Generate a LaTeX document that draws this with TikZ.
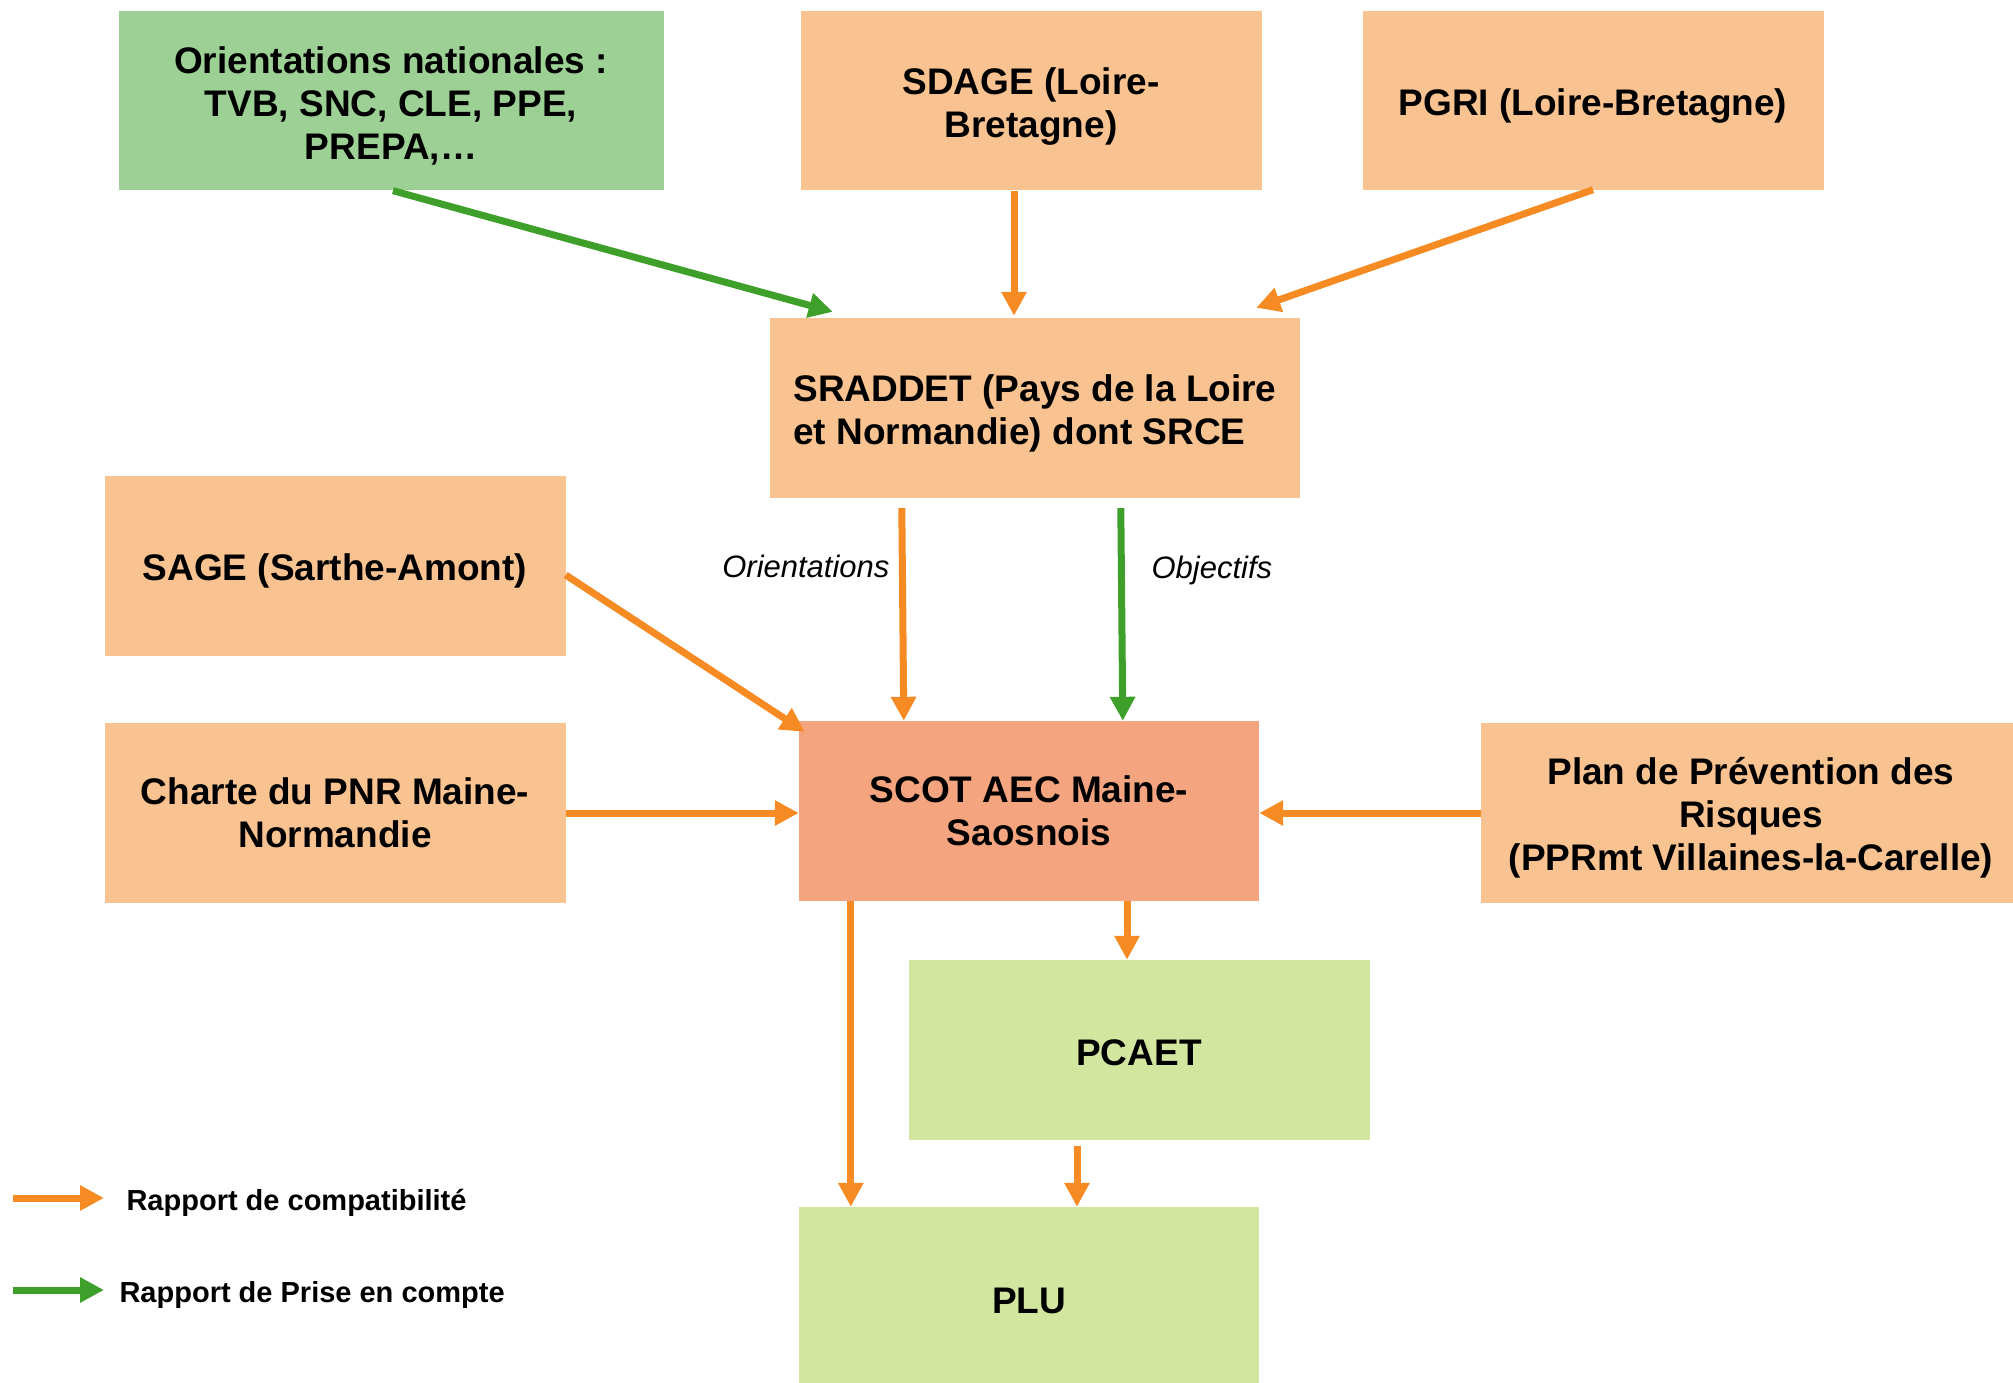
\documentclass[tikz,border=0pt]{standalone}
\usepackage{fontspec}
\setmainfont{Liberation Sans}
\usetikzlibrary{arrows.meta}
\definecolor{peche}{HTML}{F9C391}
\definecolor{vertnat}{HTML}{9CD094}
\definecolor{saumon}{HTML}{F4A57F}
\definecolor{vertpale}{HTML}{D3E6A0}
\definecolor{flecheorange}{HTML}{F68B23}
\definecolor{flecheverte}{HTML}{3EA02A}
\newcommand\haut{\rule{0pt}{37pt}}
\tikzset{
  doc/.style={fill=peche, minimum width=461pt, minimum height=180pt, inner sep=0pt,
    align=center, font=\bfseries\fontsize{37}{43}\selectfont},
  compat/.style={draw=flecheorange, line width=7pt, -{Triangle[width=24pt,length=24pt]}},
  prise/.style={draw=flecheverte, line width=7pt, -{Triangle[width=24pt,length=24pt]}},
  legende/.style={anchor=west, font=\bfseries\fontsize{29}{33}\selectfont},
  lien/.style={font=\itshape\fontsize{31}{36}\selectfont}
}
\begin{document}
\begin{tikzpicture}[x=1pt,y=-1pt]
\useasboundingbox (0,0) rectangle (2013,1383);
\node[doc, fill=vertnat, minimum width=545pt, minimum height=179pt] (nat) at (391,101) {\haut Orientations nationales :\\TVB, SNC, CLE, PPE,\\PREPA,…};
\node[doc, minimum height=179pt] (sdage) at (1031,101) {\haut SDAGE (Loire-\\Bretagne)};
\node[doc, minimum height=179pt] (pgri) at (1593,101) {\haut PGRI (Loire-Bretagne)};
\node[doc, minimum width=530pt, align=left] (sraddet) at (1035,408) {\haut SRADDET (Pays de la Loire\\et Normandie) dont SRCE};
\node[doc] (sage) at (335,566) {\haut SAGE (Sarthe-Amont)};
\node[doc] (charte) at (335,813) {Charte du PNR Maine-\\Normandie};
\node[doc, fill=saumon, minimum width=460pt] (scot) at (1029,811) {SCOT AEC Maine-\\Saosnois};
\node[doc, minimum width=532pt] (plan) at (1747,813) {\hspace*{8pt}\haut Plan de Prévention des\\\hspace*{8pt}Risques\\\hspace*{8pt}(PPRmt Villaines-la-Carelle)};
\node[doc, fill=vertpale] (pcaet) at (1139,1050) {\rule{0pt}{32pt}PCAET};
\node[doc, fill=vertpale, minimum width=460pt, minimum height=176pt] (plu) at (1029,1295) {\haut PLU};

\draw[prise] ([xshift=2pt]nat.south) -- ([xshift=63pt,yshift=6pt]sraddet.north west);
\draw[compat] ([xshift=-17pt]sdage.south) -- ([xshift=-17pt,yshift=2pt]sdage.south |- sraddet.north);
\draw[compat] ([yshift=1pt]pgri.south) -- ([xshift=-44pt,yshift=10pt]sraddet.north east);
\draw[compat] ([xshift=132pt,yshift=-10pt]sraddet.south west) -- ([xshift=105pt]scot.north west);
\draw[prise] ([xshift=351pt,yshift=-10pt]sraddet.south west) -- ([xshift=324pt]scot.north west);
\draw[compat] ([yshift=-9pt]sage.east) -- ([xshift=6pt,yshift=-11pt]scot.north west);
\draw[compat] (charte.east) -- (charte.east -| scot.west);
\draw[compat] (plan.west) -- (plan.west -| scot.east);
\draw[compat] ([xshift=98pt]scot.south) -- ([xshift=98pt]scot.south |- pcaet.north);
\draw[compat] ([xshift=52pt]scot.south west) -- ([xshift=52pt]scot.south west |- plu.north);
\draw[compat] ([xshift=-62pt,yshift=-6pt]pcaet.south) -- ([xshift=-62pt]pcaet.south |- plu.north);

\node[lien, anchor=east] (orient) at (893,566) {Orientations};
\node[lien, anchor=west] (objectifs) at (1148,570) {Objectifs};

\node[legende] (l1) at (123,1203) {Rapport de compatibilité};
\node[legende] (l2) at (116,1295) {Rapport de Prise en compte};
\coordinate (c1) at (13,1198);
\coordinate (c1e) at (104,1198);
\coordinate (c2) at (13,1290);
\coordinate (c2e) at (104,1290);
\draw[compat] (c1) -- (c1e);
\draw[prise] (c2) -- (c2e);
\end{tikzpicture}
\end{document}
